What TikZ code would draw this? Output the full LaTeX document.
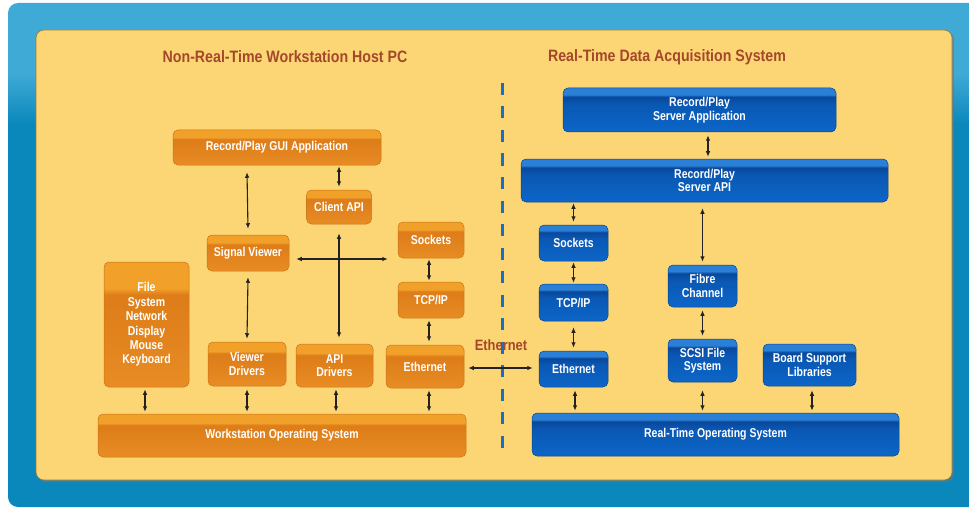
\documentclass[tikz,border=0pt]{standalone}
\usepackage{fontspec}
\usetikzlibrary{arrows.meta,shadings}
\newfontfamily\labfont[FakeStretch=0.82]{Liberation Sans}
\newfontfamily\headfont[FakeStretch=0.86]{Liberation Sans}

\definecolor{bgtop}{HTML}{3FAAD6}
\definecolor{bgbot}{HTML}{0A88BC}
\definecolor{panel}{HTML}{FCD674}
\definecolor{paneledge}{HTML}{9C7A3A}
\definecolor{titlecol}{HTML}{A5472B}
\definecolor{ot}{HTML}{F1A02A}
\definecolor{om}{HTML}{DE7E1A}
\definecolor{ob}{HTML}{E88C24}
\definecolor{oedge}{HTML}{C9741A}
\definecolor{bt}{HTML}{2A7FD6}
\definecolor{bd}{HTML}{08489C}
\definecolor{bm}{HTML}{0A58B4}
\definecolor{bb}{HTML}{0C66C8}
\definecolor{bedge}{HTML}{0A4590}
\definecolor{dashcol}{HTML}{1A6EC8}
\definecolor{arrcol}{HTML}{222222}

% box fills: a light band on top, darker body
\pgfdeclareverticalshading{orangebox}{100bp}{color(0bp)=(ob); color(25bp)=(ob); color(58bp)=(om); color(62bp)=(om); color(64.5bp)=(ot); color(75bp)=(ot); color(100bp)=(ot)}
\pgfdeclareverticalshading{bluebox}{100bp}{color(0bp)=(bb); color(25bp)=(bb); color(56bp)=(bm); color(65bp)=(bd); color(67.5bp)=(bt); color(75bp)=(bt); color(100bp)=(bt)}
\pgfdeclareverticalshading{bluebg}{100bp}{color(0bp)=(bgbot); color(25bp)=(bgbot); color(63bp)=(bgbot); color(68bp)=(bgtop); color(75bp)=(bgtop); color(100bp)=(bgtop)}

\tikzset{
  boxbase/.style={shade, draw, line width=0.5pt, rounded corners=5pt, text=white,
    font=\labfont\bfseries\fontsize{12.8}{13.5}\selectfont, align=center, inner sep=0pt},
  obox/.style={boxbase, shading=orangebox, draw=oedge},
  bbox/.style={boxbase, shading=bluebox, draw=bedge},
  sz/.style 2 args={minimum width=#1pt, minimum height=#2pt},
  arr/.style={line width=1.1pt, draw=arrcol, {Latex[length=5.5pt,width=4.6pt]}-{Latex[length=5.5pt,width=4.6pt]}},
  ttl/.style={text=titlecol, font=\headfont\bfseries\fontsize{16.5}{18}\selectfont}
}

\begin{document}
\begin{tikzpicture}[x=1pt,y=-1pt]
\useasboundingbox (0,0) rectangle (969,508);
\fill[white] (0,0) rectangle (969,508);
\begin{scope}
  \clip (0,0) rectangle (969,508);
  \shade[shading=bluebg, rounded corners=10pt] (8,3) rectangle (995,507);
\end{scope}

% yellow panel with a soft shadow
\fill[black!55, opacity=0.55, rounded corners=8pt] (37.5,31.5) rectangle (954,482);
\fill[panel, draw=paneledge, line width=0.6pt, rounded corners=8pt] (36,30) rectangle (952,480);

% section titles
\node[ttl] (tl) at (285,57) {Non-Real-Time Workstation Host PC};
\node[ttl] (tr) at (667,57) {Real-Time Data Acquisition System};

% divider
\coordinate (dtop) at (502,83);
\coordinate (dbot) at (502,452);
\draw[dashcol, line width=3pt, dash pattern=on 12pt off 11.5pt] (dtop) -- (dbot);

% ---------- host PC ----------
\node[obox, sz={208}{35}] (gui)   at (277,147.5) {Record/Play GUI Application};
\node[obox, sz={65}{34}]  (capi)  at (339,207)   {Client API};
\node[obox, sz={82}{36}]  (sview) at (248,253)   {Signal Viewer};
\node[obox, sz={66}{36}]  (lsock) at (431,240)   {Sockets};
\node[obox, sz={66}{36}]  (ltcp)  at (431,300)   {TCP/IP};
\node[obox, sz={85}{125}, font=\labfont\bfseries\fontsize{12.8}{14.4}\selectfont] (fsys) at (146.5,324.5)
  {File\\System\\Network\\Display\\Mouse\\Keyboard};
\node[obox, sz={78}{44}]  (vdrv)  at (247,364)   {Viewer\\Drivers};
\node[obox, sz={77}{43}]  (adrv)  at (334.5,365.5) {API\\Drivers};
\node[obox, sz={78}{43}]  (leth)  at (425,366.5) {Ethernet};
\node[obox, sz={368}{43}] (wos)   at (282,435.5) {Workstation Operating System};

\coordinate (hj) at (340,259);
\draw[arr] ([xshift=-30pt,yshift=-7pt]gui.south) -- ([yshift=6pt]sview.north);
\draw[arr] ([yshift=-1pt]capi.north |- gui.south) -- ([yshift=3pt]capi.north);
\draw[arr] ([yshift=-9pt]capi.south) -- ([yshift=6pt]capi.south |- adrv.north);
\draw[arr] ([xshift=7pt]sview.east |- hj) -- ([xshift=-10pt]lsock.west |- hj);
\draw[arr] ([xshift=-2pt,yshift=-1pt]lsock.south) -- ([xshift=-2pt,yshift=1pt]ltcp.north);
\draw[arr] ([xshift=-2pt,yshift=-2pt]ltcp.south) -- ([xshift=-2pt,yshift=3pt]ltcp.south |- leth.north);
\draw[arr] ([yshift=-6pt]sview.south) -- ([yshift=3pt]vdrv.north);
\draw[arr] ([xshift=-1.5pt,yshift=-2pt]fsys.south) -- ([xshift=-1.5pt,yshift=2pt]fsys.south |- wos.north);
\draw[arr] ([yshift=-3pt]vdrv.south) -- ([yshift=2pt]vdrv.south |- wos.north);
\draw[arr] ([xshift=1.5pt,yshift=-2pt]adrv.south) -- ([xshift=1.5pt,yshift=2pt]adrv.south |- wos.north);
\draw[arr] ([xshift=4pt,yshift=-2pt]leth.south) -- ([xshift=4pt,yshift=2pt]leth.south |- wos.north);

% ---------- data acquisition system ----------
\node[bbox, sz={273}{44}] (sapp)  at (699.5,110)  {Record/Play\\Server Application};
\node[bbox, sz={367}{43}] (sapi)  at (704.5,180.5) {Record/Play\\Server API};
\node[bbox, sz={69}{36}]  (rsock) at (573.5,243)  {Sockets};
\node[bbox, sz={69}{37}]  (rtcp)  at (573.5,302.5) {TCP/IP};
\node[bbox, sz={69}{36}]  (reth)  at (573.5,369)  {Ethernet};
\node[bbox, sz={69}{42}]  (fibre) at (702.5,286)  {Fibre\\Channel};
\node[bbox, sz={69}{43}]  (scsi)  at (702.5,360.5) {SCSI File\\System};
\node[bbox, sz={93}{42}]  (bsl)   at (809.5,365)  {Board Support\\Libraries};
\node[bbox, sz={367}{43}] (rtos)  at (715.5,434.5) {Real-Time Operating System};

\draw[arr] ([xshift=8.5pt,yshift=-3pt]sapp.south) -- ([xshift=8.5pt,yshift=2pt]sapp.south |- sapi.north);
\draw[arr] ([yshift=-1pt]rsock.north |- sapi.south) -- ([yshift=3pt]rsock.north);
\draw[arr] ([yshift=-6pt]fibre.north |- sapi.south) -- ([yshift=3pt]fibre.north);
\draw[arr] ([yshift=-1pt]rsock.south) -- ([yshift=1pt]rtcp.north);
\draw[arr] ([yshift=-6pt]rtcp.south) -- ([yshift=3pt]reth.north);
\draw[arr] ([yshift=-3pt]fibre.south) -- ([yshift=3pt]scsi.north);
\draw[arr] ([xshift=1.5pt,yshift=-3pt]reth.south) -- ([xshift=1.5pt,yshift=2pt]reth.south |- rtos.north);
\draw[arr] ([yshift=-8pt]scsi.south) -- ([yshift=2pt]scsi.south |- rtos.north);
\draw[arr] ([xshift=2.5pt,yshift=-4pt]bsl.south) -- ([xshift=2.5pt,yshift=2pt]bsl.south |- rtos.north);

% link between the two machines
\draw[arr] ([xshift=4pt,yshift=-1.5pt]leth.east) -- ([xshift=-6pt,yshift=-1.5pt]reth.west |- leth.east);
\node[text=titlecol, font=\headfont\bfseries\fontsize{15}{17}\selectfont] (ethlab) at (501,345) {Ethernet};
\end{tikzpicture}
\end{document}
